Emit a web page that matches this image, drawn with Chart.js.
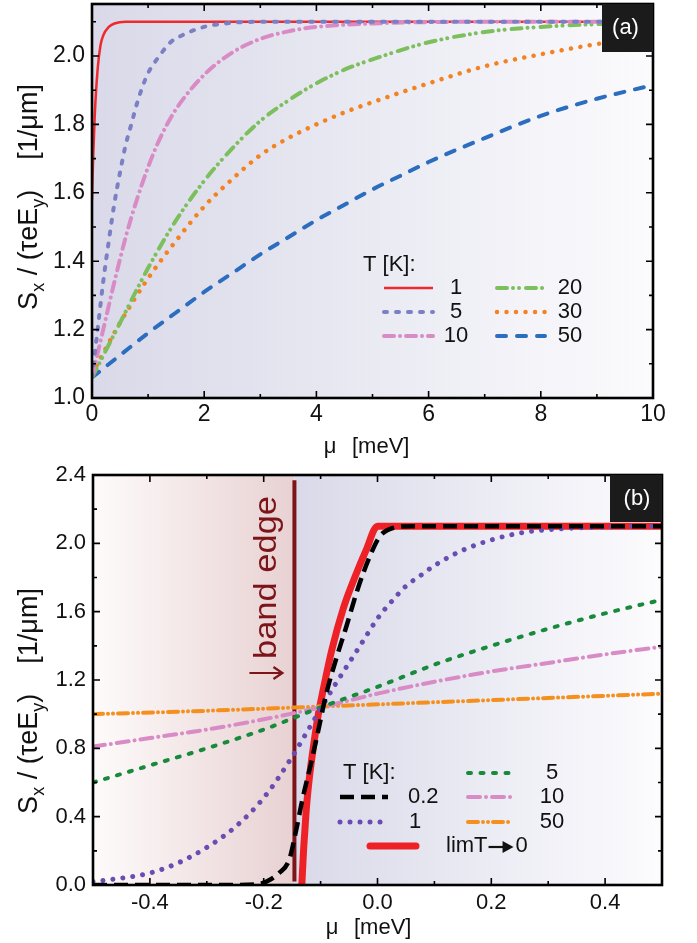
<!DOCTYPE html>
<html>
<head>
<meta charset="utf-8">
<script src="https://cdn.jsdelivr.net/npm/chart.js@4.4.1/dist/chart.umd.min.js"></script>
<style>
  body { margin: 0; background: #fff; }
  #wrap { position: relative; width: 697px; height: 943px; }
  canvas { position: absolute; left: 0; }
</style>
</head>
<body>
<div id="wrap">
  <canvas id="chartA" width="697" height="470" style="top:0"></canvas>
  <canvas id="chartB" width="697" height="483" style="top:460px"></canvas>
</div>
<script>
const SANS = '"Liberation Sans", Arial, sans-serif';

// ---------- panel (a): S_x/(tau e E_y) vs mu [meV] ----------
const tempsA = ['1', '5', '10', '20', '30', '50'];

const muA_1  = [0, 0.02, 0.05, 0.1, 0.15, 0.2, 0.3, 0.4, 0.6, 10];
const sA_1   = [1.58, 1.7, 1.83, 1.96, 2.03, 2.06, 2.085, 2.095, 2.1, 2.1];

const muA_5  = [0, 0.1, 0.2, 0.3, 0.4, 0.5, 0.6, 0.7, 0.8, 0.9, 1.0, 1.2, 1.4, 1.6, 2.0, 2.5, 3, 10];
const sA_5   = [1.06, 1.2, 1.34, 1.46, 1.57, 1.66, 1.74, 1.8, 1.86, 1.91, 1.95, 2.0, 2.04, 2.06, 2.085, 2.097, 2.1, 2.1];

const muA_10 = [0, 0.2, 0.4, 0.6, 0.8, 1.0, 1.2, 1.5, 2.0, 2.5, 3, 3.5, 4, 5, 6, 7, 10];
const sA_10  = [1.06, 1.2, 1.34, 1.47, 1.58, 1.675, 1.755, 1.845, 1.945, 2.01, 2.05, 2.072, 2.085, 2.095, 2.099, 2.1, 2.1];

const muA_20 = [0, 0.5, 1.0, 1.5, 2.0, 2.5, 3, 3.5, 4, 4.5, 5, 6, 7, 8, 9, 10];
const sA_20  = [1.06, 1.22, 1.38, 1.52, 1.635, 1.73, 1.81, 1.87, 1.92, 1.96, 1.99, 2.04, 2.07, 2.085, 2.093, 2.097];

const muA_30 = [0, 0.5, 1.0, 1.5, 2.0, 2.5, 3, 3.5, 4, 4.5, 5, 6, 7, 8, 9, 10];
const sA_30  = [1.07, 1.22, 1.35, 1.46, 1.56, 1.64, 1.71, 1.76, 1.8, 1.835, 1.865, 1.92, 1.97, 2.005, 2.035, 2.06];

const muA_50 = [0, 0.5, 1, 1.5, 2, 2.5, 3, 3.5, 4, 4.5, 5, 5.5, 6, 7, 8, 9, 10];
const sA_50  = [1.06, 1.125, 1.19, 1.25, 1.31, 1.365, 1.42, 1.47, 1.52, 1.565, 1.61, 1.65, 1.69, 1.76, 1.825, 1.875, 1.915];

const xMajorA = [0, 2, 4, 6, 8, 10];
const xMinorA = [1, 3, 5, 7, 9];
const yMajorA = [1.0, 1.2, 1.4, 1.6, 1.8, 2.0];
const yMinorA = [1.1, 1.3, 1.5, 1.7, 1.9, 2.1];

// ---------- panel (b) ----------
const tempsB = ['0.2', '1', '5', '10', '50'];

const muB_02 = [-0.5, -0.25, -0.21, -0.195, -0.173, -0.155, -0.143, -0.132, -0.117, -0.105, -0.09, -0.073, -0.055, -0.035, -0.014, 0.004, 0.027, 0.06, 0.5];
const sB_02  = [0, 0, 0.005, 0.02, 0.07, 0.15, 0.32, 0.5, 0.71, 0.89, 1.12, 1.32, 1.51, 1.73, 1.92, 2.04, 2.09, 2.1, 2.1];

const muB_1  = [-0.5, -0.45, -0.4, -0.35, -0.3, -0.25, -0.2, -0.15, -0.125, -0.1, -0.075, -0.05, -0.025, 0, 0.025, 0.05, 0.075, 0.1, 0.15, 0.2, 0.25, 0.3, 0.4, 0.5];
const sB_1   = [0.02, 0.04, 0.07, 0.13, 0.22, 0.34, 0.51, 0.75, 0.89, 1.03, 1.17, 1.3, 1.43, 1.56, 1.66, 1.75, 1.81, 1.87, 1.96, 2.02, 2.06, 2.08, 2.095, 2.1];

const muB_5  = [-0.5, -0.4, -0.3, -0.2, -0.1, 0, 0.1, 0.2, 0.3, 0.4, 0.5];
const sB_5   = [0.6, 0.7, 0.8, 0.91, 1.04, 1.16, 1.29, 1.4, 1.5, 1.59, 1.67];

const muB_10 = [-0.5, -0.4, -0.3, -0.2, -0.1, 0, 0.1, 0.2, 0.3, 0.4, 0.5];
const sB_10  = [0.81, 0.86, 0.91, 0.97, 1.04, 1.12, 1.19, 1.25, 1.3, 1.35, 1.395];

const muB_50 = [-0.5, -0.3, -0.1, 0.1, 0.3, 0.5];
const sB_50  = [1.0, 1.02, 1.045, 1.07, 1.095, 1.12];

const muB_lim = [-0.133, -0.1315, -0.13, -0.128, -0.125, -0.12, -0.113, -0.105, -0.095, -0.08, -0.06, -0.04, -0.02, 0, 0.5];
const sB_lim  = [0, 0.1, 0.2, 0.3, 0.45, 0.62, 0.8, 0.98, 1.15, 1.38, 1.62, 1.8, 1.96, 2.1, 2.1];

const bandEdgeMu = -0.146;
const bandEdgeS  = [0.02, 2.37];

const xMajorB = [-0.4, -0.2, 0.0, 0.2, 0.4];
const xMinorB = [-0.3, -0.1, 0.1, 0.3];
const yMajorB = [0.0, 0.4, 0.8, 1.2, 1.6, 2.0, 2.4];
const yMinorB = [0.2, 0.6, 1.0, 1.4, 1.8, 2.2];

function pts(xs, ys) {
  return xs.map((x, i) => ({ x: x, y: ys[i] }));
}

function curve(label, xs, ys, color, width, dash, cap) {
  return {
    label: label, data: pts(xs, ys),
    borderColor: color, backgroundColor: color,
    borderWidth: width, borderDash: dash, borderCapStyle: cap || 'round',
    pointRadius: 0, fill: false, cubicInterpolationMode: 'monotone'
  };
}

// frame, inward ticks and tick labels
function drawAxes(chart, ax) {
  const ctx = chart.ctx, a = chart.chartArea;
  const xs = chart.scales.x, ys = chart.scales.y;
  ctx.save();
  ctx.strokeStyle = '#000';
  ctx.lineWidth = 1.6;
  ctx.beginPath();
  ax.xMajor.concat(ax.xMinor).forEach(v => {
    const p = xs.getPixelForValue(v), len = ax.xMajor.includes(v) ? 7 : 4;
    ctx.moveTo(p, a.bottom); ctx.lineTo(p, a.bottom - len);
    ctx.moveTo(p, a.top); ctx.lineTo(p, a.top + len);
  });
  ax.yMajor.concat(ax.yMinor).forEach(v => {
    const p = ys.getPixelForValue(v), len = ax.yMajor.includes(v) ? 7 : 4;
    ctx.moveTo(a.left, p); ctx.lineTo(a.left + len, p);
    ctx.moveTo(a.right, p); ctx.lineTo(a.right - len, p);
  });
  ctx.stroke();
  ctx.lineWidth = 2.6;
  ctx.strokeRect(a.left, a.top, a.right - a.left, a.bottom - a.top);

  ctx.fillStyle = '#111';
  ctx.font = ax.tickFont + 'px ' + SANS;
  ctx.textAlign = 'center'; ctx.textBaseline = 'middle';
  ax.xMajor.forEach(v => {
    ctx.fillText(ax.xFmt(v), xs.getPixelForValue(v), a.bottom + ax.xLabelGap);
  });
  ctx.textAlign = 'right';
  ax.yMajor.forEach(v => {
    ctx.fillText(v.toFixed(1), a.left - 7, ys.getPixelForValue(v));
  });

  // x title
  ctx.font = '22px ' + SANS;
  ctx.textAlign = 'center';
  ctx.fillText('\u03bc', ax.muX, a.bottom + ax.xTitleGap);
  ctx.textAlign = 'left';
  ctx.fillText('[meV]', ax.muX + 22, a.bottom + ax.xTitleGap);

  // y title with subscripts, rotated
  const big = 27, small = 18;
  const parts = [
    ['S', big, 0], ['x', small, 7], [' / (', big, 0], ['\u03c4', big, 0], ['eE', big, 0],
    ['y', small, 7], [')', big, 0], ['    [1/\u03bcm]', big, 0]
  ];
  let total = 0;
  parts.forEach(p => { ctx.font = p[1] + 'px ' + SANS; total += ctx.measureText(p[0]).width; });
  ctx.translate(ax.yTitleX, (a.top + a.bottom) / 2 + ax.yTitleShift);
  ctx.rotate(-Math.PI / 2);
  ctx.textAlign = 'left'; ctx.textBaseline = 'alphabetic';
  let cx = -total / 2;
  parts.forEach(p => {
    ctx.font = p[1] + 'px ' + SANS;
    ctx.fillText(p[0], cx, p[2]);
    cx += ctx.measureText(p[0]).width;
  });
  ctx.restore();
}

function drawTag(chart, text, box) {
  const ctx = chart.ctx, a = chart.chartArea;
  ctx.save();
  ctx.fillStyle = '#1b1b1b';
  ctx.fillRect(a.right - box.w, a.top, box.w, box.h);
  ctx.fillStyle = '#fff';
  ctx.font = '22px ' + SANS;
  ctx.textAlign = 'center'; ctx.textBaseline = 'middle';
  ctx.fillText(text, a.right - box.w / 2 + box.dx, a.top + box.h / 2);
  ctx.restore();
}

// text that may contain an arrow: draw the arrow as a filled shape
function drawLabel(ctx, label, x, y) {
  const k = label.indexOf('\u2192');
  if (k < 0) { ctx.fillText(label, x, y); return; }
  const head = label.slice(0, k), tail = label.slice(k + 1);
  ctx.fillText(head, x, y);
  let ax = x + ctx.measureText(head).width + 1;
  ctx.save();
  ctx.strokeStyle = ctx.fillStyle; ctx.lineWidth = 2.2;
  ctx.beginPath(); ctx.moveTo(ax, y + 1); ctx.lineTo(ax + 18, y + 1); ctx.stroke();
  ctx.beginPath(); ctx.moveTo(ax + 14, y - 5); ctx.lineTo(ax + 25, y + 1); ctx.lineTo(ax + 14, y + 7);
  ctx.closePath(); ctx.fill();
  ctx.restore();
  ctx.fillText(tail, ax + 27, y);
}

function drawLegend(chart, lg) {
  const ctx = chart.ctx;
  ctx.save();
  ctx.fillStyle = '#111';
  ctx.font = '22px ' + SANS;
  ctx.textBaseline = 'middle'; ctx.textAlign = 'left';
  ctx.fillText('T [K]:', lg.titleX, lg.titleY);
  lg.items.forEach(it => {
    const ds = chart.data.datasets[it.ds];
    ctx.save();
    ctx.strokeStyle = ds.borderColor;
    ctx.lineWidth = ds.borderWidth;
    ctx.lineCap = ds.borderCapStyle;
    ctx.setLineDash(ds.borderDash || []);
    ctx.beginPath();
    ctx.moveTo(it.x1, it.y); ctx.lineTo(it.x2, it.y);
    ctx.stroke();
    ctx.restore();
    ctx.textAlign = it.align;
    drawLabel(ctx, ds.label, it.tx, it.y);
  });
  ctx.restore();
}

// ---------------- chart (a) ----------------
const dsA = [
  curve(tempsA[1], muA_5,  sA_5,  '#7b80c4', 4, [3, 9]),
  curve(tempsA[2], muA_10, sA_10, '#d98bc5', 4, [10, 6, 0.01, 6]),
  curve(tempsA[0], muA_1,  sA_1,  '#ee2a2e', 2.5, [], 'butt'),
  curve(tempsA[3], muA_20, sA_20, '#7cbf5c', 4, [10, 6, 0.01, 6, 0.01, 7]),
  curve(tempsA[4], muA_30, sA_30, '#f58220', 4.5, [0.01, 9.5]),
  curve(tempsA[5], muA_50, sA_50, '#2b6dbf', 4, [9, 11])
];

new Chart(document.getElementById('chartA'), {
  type: 'line',
  data: { datasets: dsA },
  options: {
    responsive: false, animation: false,
    layout: { padding: { left: 92, right: 44, top: 4, bottom: 72 } },
    plugins: { legend: { display: false }, tooltip: { enabled: false } },
    scales: {
      x: { type: 'linear', min: 0, max: 10, display: false },
      y: { type: 'linear', min: 1.0, max: 2.152, display: false }
    }
  },
  plugins: [{
    id: 'decorA',
    beforeDatasetsDraw(chart) {
      const ctx = chart.ctx, a = chart.chartArea;
      const g = ctx.createLinearGradient(a.left, 0, a.right, 0);
      g.addColorStop(0, '#d9d9e9');
      g.addColorStop(1, '#fbfbfd');
      ctx.save(); ctx.fillStyle = g;
      ctx.fillRect(a.left, a.top, a.right - a.left, a.bottom - a.top);
      ctx.restore();
    },
    afterDraw(chart) {
      drawAxes(chart, {
        xMajor: xMajorA, xMinor: xMinorA, yMajor: yMajorA, yMinor: yMinorA,
        xFmt: v => String(v), tickFont: 23, xLabelGap: 17, xTitleGap: 49,
        muX: 330, yTitleX: 37, yTitleShift: -4
      });
      drawTag(chart, '(a)', { w: 51, h: 48, dx: -2 });
      const colL = { x1: 384, x2: 433, tx: 456, align: 'center' };
      const colR = { x1: 497, x2: 545, tx: 570, align: 'center' };
      drawLegend(chart, {
        titleX: 363, titleY: 265,
        items: [
          Object.assign({ ds: 2, y: 288 }, colL),
          Object.assign({ ds: 0, y: 312 }, colL),
          Object.assign({ ds: 1, y: 336 }, colL),
          Object.assign({ ds: 3, y: 288 }, colR),
          Object.assign({ ds: 4, y: 312 }, colR),
          Object.assign({ ds: 5, y: 336 }, colR)
        ]
      });
    }
  }]
});

// ---------------- chart (b) ----------------
const dsB = [
  curve(tempsB[0], muB_02, sB_02, '#000000', 4.5, [14, 7], 'butt'),
  curve(tempsB[1], muB_1,  sB_1,  '#6a4db3', 5, [0.01, 10]),
  curve(tempsB[2], muB_5,  sB_5,  '#178a3c', 4, [3, 9.5]),
  curve(tempsB[3], muB_10, sB_10, '#d98bc5', 4, [12, 6, 0.01, 6]),
  curve(tempsB[4], muB_50, sB_50, '#f5901e', 4, [10, 5, 0.01, 5, 0.01, 5]),
  curve('limT\u21920', muB_lim, sB_lim, '#ee2226', 7, []),
  {
    label: 'band edge', data: pts([bandEdgeMu, bandEdgeMu], bandEdgeS),
    borderColor: '#7d1418', borderWidth: 4, pointRadius: 0, fill: false
  }
];

new Chart(document.getElementById('chartB'), {
  type: 'line',
  data: { datasets: dsB },
  options: {
    responsive: false, animation: false,
    layout: { padding: { left: 93, right: 35, top: 15, bottom: 58 } },
    plugins: { legend: { display: false }, tooltip: { enabled: false } },
    scales: {
      x: { type: 'linear', min: -0.5, max: 0.5, display: false },
      y: { type: 'linear', min: 0, max: 2.4, display: false }
    }
  },
  plugins: [{
    id: 'decorB',
    beforeDatasetsDraw(chart) {
      const ctx = chart.ctx, a = chart.chartArea;
      const edge = chart.scales.x.getPixelForValue(bandEdgeMu);
      ctx.save();
      let g = ctx.createLinearGradient(a.left, 0, edge, 0);
      g.addColorStop(0, '#fefbfb');
      g.addColorStop(1, '#e8d1d2');
      ctx.fillStyle = g;
      ctx.fillRect(a.left, a.top, edge - a.left, a.bottom - a.top);
      g = ctx.createLinearGradient(edge, 0, a.right, 0);
      g.addColorStop(0, '#d9d9e9');
      g.addColorStop(1, '#fcfcfe');
      ctx.fillStyle = g;
      ctx.fillRect(edge, a.top, a.right - edge, a.bottom - a.top);
      ctx.restore();
    },
    afterDatasetsDraw(chart) {
      const ctx = chart.ctx, a = chart.chartArea;
      const edge = chart.scales.x.getPixelForValue(bandEdgeMu);
      ctx.save();
      ctx.fillStyle = '#7d1418';
      ctx.font = '31px ' + SANS;
      ctx.translate(edge - 18, a.top + 184);
      ctx.rotate(-Math.PI / 2);
      const w = ctx.measureText('band edge').width;
      ctx.scale(163 / w, 1);
      ctx.textAlign = 'left'; ctx.textBaseline = 'alphabetic';
      ctx.fillText('band edge', 0, 0);
      ctx.restore();
      // small arrow pointing at the edge line
      ctx.save();
      ctx.strokeStyle = '#7d1418';
      ctx.lineWidth = 2.2;
      const ay = a.top + 198;
      ctx.beginPath();
      ctx.moveTo(edge - 45, ay); ctx.lineTo(edge - 12, ay);
      ctx.moveTo(edge - 21, ay - 6); ctx.lineTo(edge - 12, ay); ctx.lineTo(edge - 21, ay + 6);
      ctx.stroke();
      ctx.restore();
    },
    afterDraw(chart) {
      drawAxes(chart, {
        xMajor: xMajorB, xMinor: xMinorB, yMajor: yMajorB, yMinor: yMinorB,
        xFmt: v => v.toFixed(1), tickFont: 22, xLabelGap: 18, xTitleGap: 43,
        muX: 332, yTitleX: 37, yTitleShift: 21
      });
      drawTag(chart, '(b)', { w: 52, h: 47, dx: 1 });
      drawLegend(chart, {
        titleX: 343, titleY: 313,
        items: [
          { ds: 0, y: 337, x1: 340, x2: 388, tx: 408, align: 'left' },
          { ds: 1, y: 362, x1: 340, x2: 390, tx: 409, align: 'left' },
          { ds: 5, y: 386, x1: 370, x2: 416, tx: 446, align: 'left' },
          { ds: 2, y: 313, x1: 468, x2: 512, tx: 552, align: 'center' },
          { ds: 3, y: 337, x1: 468, x2: 513, tx: 552, align: 'center' },
          { ds: 4, y: 362, x1: 468, x2: 513, tx: 552, align: 'center' }
        ]
      });
    }
  }]
});
</script>
</body>
</html>
